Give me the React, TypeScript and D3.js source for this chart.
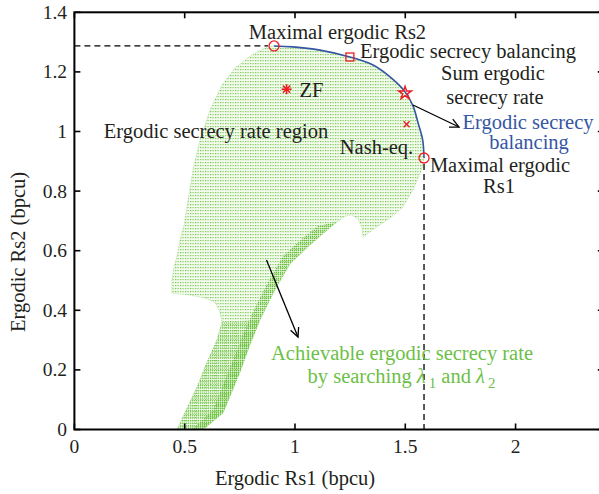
import React from "react";
import * as d3 from "d3";

// ---- axis ticks ----
const xTicks = [0, 0.5, 1, 1.5, 2];
const xTickLabels = ["0", "0.5", "1", "1.5", "2"];
const yTicks = [0, 0.2, 0.4, 0.6, 0.8, 1, 1.2, 1.4];
const yTickLabels = ["0", "0.2", "0.4", "0.6", "0.8", "1", "1.2", "1.4"];

// ---- achievable region boundary (Rs1, Rs2) ----
const leftBoundary: [number, number][] = [
  [0.465, 0.0], [0.51, 0.072], [0.556, 0.143], [0.601, 0.227], [0.646, 0.3],
  [0.669, 0.361], [0.66, 0.394], [0.637, 0.428], [0.592, 0.441], [0.524, 0.451],
  [0.442, 0.458], [0.442, 0.502], [0.451, 0.542], [0.465, 0.582], [0.479, 0.636],
  [0.497, 0.686], [0.515, 0.77], [0.538, 0.871], [0.569, 0.971], [0.615, 1.072],
  [0.669, 1.156], [0.728, 1.213], [0.805, 1.257], [0.864, 1.28],
];
// Ergodic secrecy balancing (outer Pareto boundary)
const topBoundary: [number, number][] = [
  [0.905, 1.287], [0.991, 1.284], [1.113, 1.273], [1.249, 1.25], [1.354, 1.223],
  [1.431, 1.183], [1.499, 1.133], [1.535, 1.086], [1.558, 1.029], [1.579, 0.971],
  [1.585, 0.911],
];
const rightBoundary: [number, number][] = [
  [1.574, 0.871], [1.535, 0.804], [1.485, 0.743], [1.431, 0.71], [1.372, 0.68],
  [1.308, 0.646], [1.304, 0.676], [1.286, 0.706], [1.258, 0.72], [1.227, 0.716],
  [1.19, 0.696],
];
const ridgeBoundary: [number, number][] = [
  [1.136, 0.663], [1.068, 0.619], [0.977, 0.555], [0.909, 0.468], [0.841, 0.367],
  [0.796, 0.284], [0.751, 0.193], [0.674, 0.055], [0.583, 0.0],
];
// inner edge of the dense ridge strip
const ridgeInner: [number, number][] = [
  [1.19, 0.696], [1.104, 0.683], [1.036, 0.643], [0.946, 0.582], [0.873, 0.488],
  [0.805, 0.388], [0.755, 0.3], [0.705, 0.206], [0.628, 0.065], [0.533, 0.0],
];

// ---- operating points ----
const maxRs2Point: [number, number] = [0.905, 1.287];
const balancingPoint: [number, number] = [1.249, 1.25];
const sumRatePoint: [number, number] = [1.499, 1.129];
const nashPoint: [number, number] = [1.506, 1.024];
const zfPoint: [number, number] = [0.962, 1.142];
const maxRs1Point: [number, number] = [1.585, 0.911];

const FONT = "'Liberation Serif', 'Times New Roman', serif";
const TXT = "#231f20";
const GREEN = "#6cbf47";
const BLUE = "#3556a3";
const RED = "#ee1c24";

function Arrow({ x1, y1, x2, y2 }: { x1: number; y1: number; x2: number; y2: number }) {
  const a = Math.atan2(y2 - y1, x2 - x1);
  const L = 10;
  const s = 0.45;
  const p1 = [x2 - L * Math.cos(a - s), y2 - L * Math.sin(a - s)];
  const p2 = [x2 - L * Math.cos(a + s), y2 - L * Math.sin(a + s)];
  return (
    <g stroke="#000" strokeWidth={1.3} fill="none">
      <line x1={x1} y1={y1} x2={x2} y2={y2} />
      <polyline points={`${p1[0]},${p1[1]} ${x2},${y2} ${p2[0]},${p2[1]}`} />
    </g>
  );
}

export default function App() {
  const W = 599;
  const H = 494;
  const x = d3.scaleLinear().domain([0, 2.4]).range([74.4, 603.8]);
  const y = d3.scaleLinear().domain([0, 1.4]).range([429.5, 12.3]);

  const poly = d3
    .line<[number, number]>()
    .x((d) => x(d[0]))
    .y((d) => y(d[1]))
    .curve(d3.curveLinearClosed);
  const smooth = d3
    .line<[number, number]>()
    .x((d) => x(d[0]))
    .y((d) => y(d[1]))
    .curve(d3.curveCatmullRom);

  const region = [...leftBoundary, ...topBoundary, ...rightBoundary, ...ridgeBoundary];
  const band = [
    ...leftBoundary.filter((d) => d[1] <= 0.37 && d[0] > 0.46),
    ...ridgeBoundary.filter((d) => d[1] <= 0.37),
  ];
  const ridgeStrip = [...ridgeBoundary, ...ridgeInner.slice().reverse()];

  const x0 = x(0), x1 = x(2.4), y0 = y(0), y1 = y(1.4);
  const tl = 6;

  const px = (p: [number, number]) => x(p[0]);
  const py = (p: [number, number]) => y(p[1]);

  const starPath = d3.symbol().type(d3.symbolStar).size(50)() as string;

  return (
    <svg
      width={W}
      height={H}
      style={{ position: "absolute", left: 0, top: 0, background: "#fff" }}
      fontFamily={FONT}
    >
      <defs>
        <pattern id="dots" width={2.5} height={3} patternUnits="userSpaceOnUse">
          <rect x={0} y={0} width={1.2} height={1.2} fill="#78c84f" />
        </pattern>
        <pattern id="dots2" width={2} height={2.5} patternUnits="userSpaceOnUse">
          <rect x={0} y={0} width={1.2} height={1.3} fill="#74c64a" />
        </pattern>
        <pattern id="dots3" width={2} height={2} patternUnits="userSpaceOnUse">
          <rect x={0} y={0} width={1.3} height={1.3} fill="#6cc040" />
        </pattern>
        <clipPath id="plotclip">
          <rect x={x0} y={y1} width={x1 - x0} height={y0 - y1} />
        </clipPath>
      </defs>

      {/* region */}
      <g clipPath="url(#plotclip)">
        <path d={poly(region) as string} fill="#f3faee" stroke="none" />
        <path d={poly(region) as string} fill="url(#dots)" stroke="#8fd46c" strokeWidth={0.6} strokeDasharray="1.2 1.2" />
        <path d={poly(band) as string} fill="url(#dots2)" stroke="none" />
        <path d={poly(ridgeStrip) as string} fill="url(#dots3)" stroke="none" />
        <path d={smooth(topBoundary) as string} fill="none" stroke={BLUE} strokeWidth={1.6} />
      </g>

      {/* dashed guides */}
      <line x1={x0} y1={py(maxRs2Point)} x2={px(maxRs2Point) - 6} y2={py(maxRs2Point)} stroke="#000" strokeWidth={1.3} strokeDasharray="6 4" />
      <line x1={px(maxRs1Point)} y1={py(maxRs1Point) + 6} x2={px(maxRs1Point)} y2={y0} stroke="#000" strokeWidth={1.3} strokeDasharray="6 4" />

      {/* frame */}
      <rect x={x0} y={y1} width={x1 - x0} height={y0 - y1} fill="none" stroke="#000" strokeWidth={2} />
      {xTicks.map((t) => (
        <g key={"xt" + t} stroke="#000" strokeWidth={1.6}>
          <line x1={x(t)} x2={x(t)} y1={y0} y2={y0 - tl} />
          <line x1={x(t)} x2={x(t)} y1={y1} y2={y1 + tl} />
        </g>
      ))}
      {yTicks.map((t) => (
        <g key={"yt" + t} stroke="#000" strokeWidth={1.6}>
          <line x1={x0} x2={x0 + tl} y1={y(t)} y2={y(t)} />
          <line x1={x1} x2={x1 - tl} y1={y(t)} y2={y(t)} />
        </g>
      ))}
      {xTicks.map((t, i) => (
        <text key={"xl" + t} x={x(t)} y={453} textAnchor="middle" fontSize={19.5} fill={TXT}>
          {xTickLabels[i]}
        </text>
      ))}
      {yTicks.map((t, i) => (
        <text key={"yl" + t} x={67} y={y(t) + 6.5} textAnchor="end" fontSize={19.5} fill={TXT}>
          {yTickLabels[i]}
        </text>
      ))}
      <text x={x(1)} y={485} textAnchor="middle" fontSize={20.5} fill={TXT}>
        Ergodic Rs1 (bpcu)
      </text>
      <text transform={`translate(25,252) rotate(-90)`} textAnchor="middle" fontSize={20.5} fill={TXT}>
        Ergodic Rs2 (bpcu)
      </text>

      {/* markers */}
      <circle cx={px(maxRs2Point)} cy={py(maxRs2Point)} r={5} fill="none" stroke={RED} strokeWidth={1.3} />
      <circle cx={px(maxRs1Point)} cy={py(maxRs1Point)} r={5} fill="none" stroke={RED} strokeWidth={1.3} />
      <rect x={px(balancingPoint) - 4} y={py(balancingPoint) - 4} width={8} height={8} fill="none" stroke={RED} strokeWidth={1.3} />
      <path d={starPath} transform={`translate(${px(sumRatePoint)},${py(sumRatePoint)})`} fill="none" stroke={RED} strokeWidth={1.5} />
      <g stroke={RED} strokeWidth={1.4} transform={`translate(${px(nashPoint)},${py(nashPoint)})`}>
        <line x1={-3} y1={-3} x2={3} y2={3} />
        <line x1={-3} y1={3} x2={3} y2={-3} />
      </g>
      <g stroke={RED} strokeWidth={1.6} transform={`translate(${px(zfPoint)},${py(zfPoint)})`}>
        <line x1={-5} y1={0} x2={5} y2={0} />
        <line x1={0} y1={-5} x2={0} y2={5} />
        <line x1={-3.6} y1={-3.6} x2={3.6} y2={3.6} />
        <line x1={-3.6} y1={3.6} x2={3.6} y2={-3.6} />
      </g>

      {/* arrows */}
      <Arrow x1={413} y1={105} x2={459} y2={127} />
      <Arrow x1={266.5} y1={260} x2={298} y2={337} />

      {/* annotations */}
      <g fontSize={20.5} fill={TXT} textAnchor="middle">
        <text x={337.5} y={39}>Maximal ergodic Rs2</text>
        <text x={468} y={58}>Ergodic secrecy balancing</text>
        <text x={493} y={80}>Sum ergodic</text>
        <text x={495} y={104}>secrecy rate</text>
        <text x={500} y={172}>Maximal ergodic</text>
        <text x={499} y={193}>Rs1</text>
        <text x={376.5} y={154}>Nash-eq.</text>
        <text x={311.5} y={97}>ZF</text>
        <text x={216} y={138}>Ergodic secrecy rate region</text>
      </g>
      <g fontSize={20.5} fill={BLUE} textAnchor="middle">
        <text x={528} y={129}>Ergodic secrecy</text>
        <text x={529} y={149}>balancing</text>
      </g>
      <g fontSize={20.5} fill={GREEN} textAnchor="middle">
        <text x={402} y={360}>Achievable ergodic secrecy rate</text>
        <text x={401.5} y={383}>
          by searching <tspan fontStyle="italic">λ</tspan>
          <tspan dx={3} dy={5} fontSize={15}>1</tspan>
          <tspan dy={-5}> and </tspan>
          <tspan fontStyle="italic">λ</tspan>
          <tspan dx={3} dy={5} fontSize={15}>2</tspan>
        </text>
      </g>
    </svg>
  );
}
